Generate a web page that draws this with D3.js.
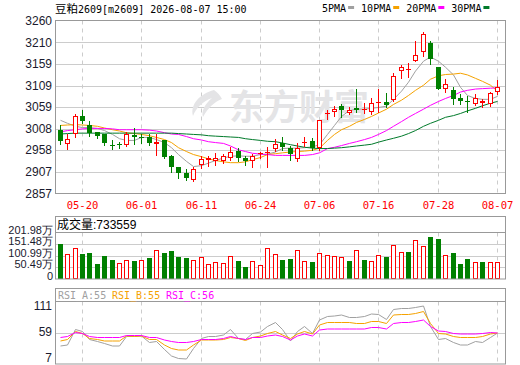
<!DOCTYPE html>
<html>
<head>
<meta charset="utf-8">
<script src="https://cdn.jsdelivr.net/npm/d3@7"></script>
<style>
  html, body { margin: 0; padding: 0; background: #fff; }
  svg { display: block; }
  text { font-family: "Liberation Sans", Arial, sans-serif; font-size: 12px; }
  .mono { font-family: "DejaVu Sans Mono", "Liberation Mono", monospace; font-size: 10px; }
  .cjk { font-family: "Noto Sans CJK SC", sans-serif; }
</style>
</head>
<body>
<script>
const title = '2609[m2609] 2026-08-07 15:00';
const titleName = '豆粕';

const dates = [
  '05-15', '05-18', '05-19', '05-20', '05-21', '05-22', '05-25', '05-26', '05-27', '05-28',
  '05-29', '06-01', '06-02', '06-03', '06-04', '06-05', '06-08', '06-09', '06-10', '06-11',
  '06-12', '06-15', '06-16', '06-17', '06-18', '06-22', '06-23', '06-24', '06-25', '06-26',
  '06-29', '06-30', '07-01', '07-02', '07-03', '07-06', '07-07', '07-08', '07-09', '07-10',
  '07-13', '07-14', '07-15', '07-16', '07-17', '07-20', '07-21', '07-22', '07-23', '07-24',
  '07-27', '07-28', '07-29', '07-30', '07-31', '08-03', '08-04', '08-05', '08-06', '08-07',
];
const xTicks = ['05-20', '06-01', '06-11', '06-24', '07-06', '07-16', '07-28', '08-07'];

const open = [
  3006, 2973, 2995, 3037, 3016, 3000, 2995, 2971, 2972, 2970,
  2993, 2990, 2989, 2973, 2983, 2944, 2918, 2904, 2888, 2924,
  2936, 2934, 2932, 2941, 2957, 2940, 2932, 2950, 2952, 2961,
  2974, 2963, 2938, 2975, 2979, 2963, 3044, 3047, 3061, 3046,
  3057, 3052, 3047, 3069, 3071, 3075, 3144, 3147, 3167, 3187,
  3209, 3153, 3102, 3098, 3081, 3074, 3065, 3069, 3065, 3093,
];
const high = [
  3016, 2995, 3043, 3051, 3026, 3000, 2996, 2981, 2978, 3000,
  3010, 2996, 2996, 2996, 2983, 2948, 2920, 2915, 2920, 2944,
  2944, 2952, 2949, 2966, 2963, 2945, 2949, 2955, 2966, 2985,
  2989, 2967, 2975, 2989, 2987, 3028, 3051, 3061, 3065, 3060,
  3102, 3068, 3079, 3101, 3091, 3138, 3157, 3163, 3214, 3234,
  3214, 3153, 3124, 3105, 3089, 3085, 3089, 3077, 3093, 3122,
];
const low = [
  2973, 2962, 2988, 3021, 2991, 2987, 2970, 2961, 2963, 2967,
  2973, 2974, 2971, 2948, 2941, 2908, 2894, 2888, 2887, 2916,
  2922, 2924, 2928, 2936, 2932, 2923, 2918, 2940, 2918, 2957,
  2959, 2936, 2932, 2967, 2959, 2959, 3030, 3038, 3036, 3042,
  3047, 3044, 3042, 3047, 3058, 3073, 3128, 3130, 3167, 3179,
  3159, 3101, 3094, 3065, 3065, 3047, 3063, 3058, 3061, 3089,
];
const close = [
  2979, 2985, 3039, 3026, 2998, 2991, 2974, 2969, 2970, 2995,
  2990, 2988, 2974, 2977, 2943, 2918, 2904, 2894, 2915, 2938,
  2939, 2941, 2945, 2955, 2941, 2934, 2945, 2952, 2955, 2973,
  2966, 2950, 2963, 2977, 2963, 3028, 3046, 3055, 3053, 3051,
  3051, 3054, 3068, 3071, 3063, 3132, 3152, 3149, 3181, 3230,
  3171, 3102, 3112, 3077, 3073, 3072, 3081, 3073, 3091, 3105,
];

const ma5 = [
  3028, 3021, 3014, 3011, 3011, 3009, 3004, 2995, 2985, 2981,
  2981, 2988, 2988, 2983, 2976, 2964, 2948, 2932, 2920, 2922,
  2928, 2934, 2940, 2944, 2945, 2944, 2944, 2948, 2949, 2954,
  2962, 2963, 2963, 2964, 2966, 2971, 2995, 3016, 3037, 3051,
  3054, 3054, 3056, 3058, 3061, 3077, 3096, 3117, 3143, 3166,
  3176, 3166, 3152, 3134, 3105, 3086, 3079, 3077, 3077, 3084,
];
const ma10 = [
  3016, 3017, 3018, 3017, 3016, 3014, 3010, 3006, 3003, 2999,
  2997, 2995, 2992, 2988, 2983, 2976, 2964, 2955, 2948, 2943,
  2938, 2934, 2931, 2929, 2929, 2931, 2936, 2941, 2948, 2950,
  2952, 2954, 2955, 2956, 2958, 2963, 2981, 2995, 3006, 3014,
  3023, 3030, 3037, 3045, 3054, 3065, 3075, 3086, 3098, 3110,
  3124, 3132, 3135, 3136, 3138, 3134, 3126, 3119, 3110, 3096,
];
const ma20 = [
  3001, 3004, 3006, 3008, 3009, 3009, 3009, 3008, 3006, 3006,
  3006, 3006, 3005, 3003, 2999, 2996, 2995, 2990, 2985, 2982,
  2978, 2976, 2974, 2968, 2959, 2955, 2951, 2949, 2948, 2946,
  2946, 2946, 2946, 2946, 2948, 2952, 2962, 2965, 2969, 2974,
  2978, 2983, 2988, 2995, 3004, 3014, 3025, 3035, 3044, 3054,
  3063, 3072, 3079, 3086, 3094, 3098, 3101, 3102, 3103, 3104,
];
const ma30 = [
  2996, 2997, 2998, 2998, 2998, 2998, 2998, 2998, 2998, 2998,
  2998, 2998, 2998, 2998, 2998, 2998, 2997, 2996, 2995, 2994,
  2992, 2991, 2990, 2989, 2988, 2985, 2983, 2981, 2979, 2978,
  2975, 2971, 2968, 2965, 2963, 2962, 2962, 2963, 2964, 2966,
  2968, 2970, 2972, 2977, 2982, 2986, 2991, 2997, 3004, 3014,
  3021, 3028, 3035, 3039, 3044, 3050, 3056, 3062, 3068, 3072,
];

// volume in 万 (10k lots), up = red hollow bar
const volume = [
  152.7, 109, 135, 109, 113.4, 65.4, 100.3, 82.9, 68.5, 81.5,
  78.5, 81.5, 91.6, 126.5, 113.4, 122, 97.3, 91.6, 81.5, 96,
  64, 72.7, 69.8, 100.3, 78.5, 52.4, 77.2, 61, 134, 107.7,
  82.9, 87.3, 125, 80, 72.7, 112, 103.4, 98.8, 96, 78.5,
  125, 82.9, 77.2, 103.4, 96, 147, 116.5, 117.8, 168.8, 142.7,
  183.2, 174.5, 103.4, 113.4, 65.4, 87.3, 72.7, 72.7, 72.7, 73.36,
];
const volUp = [
  0, 1, 1, 0, 0, 0, 0, 0, 1, 1,
  0, 1, 0, 1, 0, 0, 0, 0, 1, 1,
  1, 1, 1, 1, 0, 0, 1, 1, 1, 1,
  0, 0, 1, 1, 0, 1, 1, 1, 1, 0,
  1, 0, 1, 1, 0, 1, 1, 0, 1, 1,
  0, 0, 1, 0, 0, 0, 1, 0, 1, 1,
];
const lastVolume = 733559;

const rsiA = [
  33, 35, 66, 62, 46, 42, 38, 33, 33, 52,
  52, 53, 40, 42, 26, 13, 8, 7, 28, 48,
  52, 52, 55, 66, 48, 46, 58, 61, 72, 80,
  66, 43, 62, 72, 58, 85, 92, 93, 95, 90,
  90, 92, 97, 96, 86, 106, 108, 108, 110, 113,
  72, 46, 48, 40, 35, 35, 42, 40, 50, 59,
];
const rsiB = [
  43, 46, 62, 58, 48, 46, 43, 43, 43, 53,
  52, 53, 46, 46, 35, 28, 25, 25, 35, 45,
  45, 45, 46, 50, 48, 44, 50, 53, 58, 62,
  55, 48, 57, 62, 57, 75, 80, 80, 80, 80,
  78, 78, 82, 82, 78, 95, 96, 96, 98, 102,
  78, 58, 57, 52, 50, 50, 50, 52, 57, 59,
];
const rsiC = [
  50, 52, 60, 58, 52, 50, 50, 50, 50, 54,
  54, 54, 50, 50, 45, 42, 40, 40, 42, 46,
  46, 46, 48, 52, 48, 46, 50, 50, 53, 55,
  52, 45, 53, 57, 53, 65, 67, 67, 67, 67,
  67, 67, 70, 70, 67, 78, 80, 80, 82, 85,
  72, 63, 62, 58, 57, 57, 57, 58, 60, 59,
];
const rsiLast = [55, 55, 56];

const priceTicks = [2857, 2907, 2958, 3008, 3059, 3109, 3159, 3210, 3260];
const volTicks = [0, 50.49, 100.99, 151.48, 201.98];
const rsiTicks = [7, 59, 111];

const maNames = ['5PMA', '10PMA', '20PMA', '30PMA'];
const maColors = ['#a0a0a0', '#f5a200', '#ff00ff', '#007a2a'];
const rsiNames = ['RSI_A', 'RSI_B', 'RSI_C'];
const rsiColors = ['#a0a0a0', '#f5a200', '#ff00ff'];

const up = '#ff0000';
const down = '#008000';
const gridColor = '#cccccc';
const borderColor = '#999999';

const w = 520;
const h = 365;
const left = 55;
const right = 505;
const main = { top: 20.5, bottom: 193.5 };
const vol = { box: 216.5, top: 232.5, bottom: 279 };
const rsi = { box: 288.5, top: 301.5, bottom: 364 };

const bars = dates.map((d, i) => ({
  date: d, o: open[i], h: high[i], l: low[i], c: close[i], v: volume[i], vu: volUp[i],
}));

const x = d3.scaleBand().domain(dates).range([56.1, 500.7]);
const cx = d => Math.round(x(d) + x.bandwidth() / 2);

const y = d3.scaleLinear().domain([2857, 3260]).range([193.5, 21]);
const yv = d3.scaleLinear().domain([0, 201.98]).range([279, 232.7]);
const yr = d3.scaleLinear().domain([7, 111]).range([359, 307]);

const svg = d3.select('body').append('svg').attr('width', w).attr('height', h);

// header
const head = svg.append('text').attr('x', 55).attr('y', 13).attr('fill', '#000');
head.append('tspan').attr('class', 'cjk').style('font-size', '11.5px').text(titleName);
head.append('tspan').attr('class', 'mono').text(title);

const legend = svg.append('g').attr('class', 'mono');
let lx = 322;
maNames.forEach((name, i) => {
  const t = legend.append('text').attr('class', 'mono').attr('x', lx).attr('y', 12).attr('fill', '#000').text(name);
  const tw = t.node().getComputedTextLength();
  legend.append('rect').attr('x', lx + tw + 2).attr('y', 6).attr('width', 6).attr('height', 3).attr('fill', maColors[i]);
  lx += tw + 15;
});

// vertical dashed grid lines for all three panels
[[main.top, main.bottom], [vol.top, vol.bottom], [rsi.top, rsi.bottom]].forEach(([t, b]) => {
  svg.append('g').selectAll('line').data(xTicks).join('line')
    .attr('x1', d => cx(d) + 0.5).attr('x2', d => cx(d) + 0.5)
    .attr('y1', t).attr('y2', b)
    .attr('stroke', gridColor).attr('stroke-dasharray', '4,4');
});

// horizontal grid
svg.append('g').selectAll('line').data(priceTicks.slice(1, -1)).join('line')
  .attr('x1', left).attr('x2', right)
  .attr('y1', d => Math.round(y(d)) + 0.5).attr('y2', d => Math.round(y(d)) + 0.5)
  .attr('stroke', gridColor);
svg.append('g').selectAll('line').data(volTicks.slice(1, -1)).join('line')
  .attr('x1', left).attr('x2', right)
  .attr('y1', d => Math.round(yv(d)) + 0.5).attr('y2', d => Math.round(yv(d)) + 0.5)
  .attr('stroke', gridColor);
svg.append('line').attr('x1', left).attr('x2', right)
  .attr('y1', Math.round(yr(59)) + 0.5).attr('y2', Math.round(yr(59)) + 0.5)
  .attr('stroke', gridColor);

// watermark
const wm = svg.append('g').attr('fill', '#e4e4e6');
wm.append('path')
  .attr('d', 'M214,90 C200,94 190,104 193,116 C196,108 203,101 212,98 C205,104 201,111 203,117 C208,108 214,102 222,99 C220,95 217,92 214,90 Z');
wm.append('text').attr('class', 'cjk').attr('x', 229).attr('y', 120)
  .style('font-size', '35px').style('font-weight', 'bold').text('东方财富');

// moving averages
const line = vals => d3.line().x((d, i) => cx(dates[i]) + 0.5).y(d => y(d))(vals);
[ma5, ma10, ma20, ma30].forEach((vals, i) => {
  svg.append('path').attr('d', line(vals)).attr('fill', 'none')
    .attr('stroke', maColors[i]).attr('stroke-width', 1);
});

// candles
const candle = svg.append('g').selectAll('g').data(bars).join('g');
const isUp = d => d.c > d.o;
candle.append('line')
  .attr('x1', d => cx(d.date) + 0.5).attr('x2', d => cx(d.date) + 0.5)
  .attr('y1', d => Math.round(y(d.h))).attr('y2', d => Math.round(y(d.l)) + 1)
  .attr('stroke', d => (isUp(d) ? up : down));
candle.append('rect')
  .each(function (d) {
    const t = Math.round(y(Math.max(d.o, d.c)));
    const b = Math.round(y(Math.min(d.o, d.c)));
    const r = d3.select(this);
    if (isUp(d) && b - t >= 2) {
      r.attr('x', cx(d.date) - 1.5).attr('y', t + 0.5).attr('width', 4).attr('height', b - t - 1)
        .attr('fill', '#fff').attr('stroke', up);
    } else {
      r.attr('x', cx(d.date) - 2).attr('y', t).attr('width', 5).attr('height', Math.max(1, b - t))
        .attr('fill', isUp(d) ? up : down);
    }
  });

// volume bars
svg.append('g').selectAll('rect').data(bars).join('rect')
  .each(function (d) {
    const t = Math.round(yv(d.v));
    const r = d3.select(this);
    if (d.vu) {
      r.attr('x', cx(d.date) - 1.5).attr('y', t + 0.5).attr('width', 4).attr('height', vol.bottom - t - 1)
        .attr('fill', '#fff').attr('stroke', up);
    } else {
      r.attr('x', cx(d.date) - 2).attr('y', t).attr('width', 5).attr('height', vol.bottom - t)
        .attr('fill', down);
    }
  });

// rsi lines
const rline = vals => d3.line().x((d, i) => cx(dates[i]) + 0.5).y(d => yr(d))(vals);
[rsiA, rsiB, rsiC].forEach((vals, i) => {
  svg.append('path').attr('d', rline(vals)).attr('fill', 'none')
    .attr('stroke', rsiColors[i]).attr('stroke-width', 1);
});

// panel borders
svg.append('rect').attr('x', left + 0.5).attr('y', main.top).attr('width', right - left).attr('height', main.bottom - main.top)
  .attr('fill', 'none').attr('stroke', borderColor);
svg.append('rect').attr('x', left + 0.5).attr('y', vol.box).attr('width', right - left).attr('height', vol.bottom - vol.box)
  .attr('fill', 'none').attr('stroke', borderColor);
svg.append('line').attr('x1', left).attr('x2', right).attr('y1', vol.top).attr('y2', vol.top).attr('stroke', borderColor);
svg.append('rect').attr('x', left + 0.5).attr('y', rsi.box).attr('width', right - left).attr('height', rsi.bottom - rsi.box)
  .attr('fill', 'none').attr('stroke', borderColor);
svg.append('line').attr('x1', left).attr('x2', right).attr('y1', rsi.top).attr('y2', rsi.top).attr('stroke', borderColor);

// axis labels
svg.append('g').selectAll('text').data(priceTicks).join('text')
  .attr('x', 52).attr('y', d => y(d)).attr('dy', '0.35em').attr('text-anchor', 'end')
  .attr('fill', '#1a1a2e').text(d => d);
svg.append('g').selectAll('text').data(xTicks).join('text')
  .attr('class', 'mono').style('font-size', '10.5px')
  .attr('x', d => cx(d) + 0.5).attr('y', 209).attr('text-anchor', 'middle')
  .attr('fill', up).text(d => d);
svg.append('g').selectAll('text').data(volTicks).join('text')
  .style('font-size', '11px')
  .attr('x', 53).attr('y', d => yv(d) - 3).attr('dy', '0.35em').attr('text-anchor', 'end')
  .attr('fill', '#1a1a2e').text(d => (d === 0 ? '0' : `${d.toFixed(2)}万`));
svg.append('g').selectAll('text').data(rsiTicks).join('text')
  .attr('x', 52).attr('y', d => yr(d) - 1).attr('dy', '0.35em').attr('text-anchor', 'end')
  .attr('fill', '#1a1a2e').text(d => d);

// panel captions
const vcap = svg.append('text').attr('x', 57).attr('y', 229).attr('fill', '#000');
vcap.append('tspan').attr('class', 'cjk').text('成交量');
vcap.append('tspan').text(`:${lastVolume}`);

rsiNames.forEach((name, i) => {
  svg.append('text').attr('class', 'mono').attr('x', 58 + i * 54).attr('y', 299)
    .attr('fill', rsiColors[i]).text(`${name}:${rsiLast[i]}`);
});
</script>
</body>
</html>
